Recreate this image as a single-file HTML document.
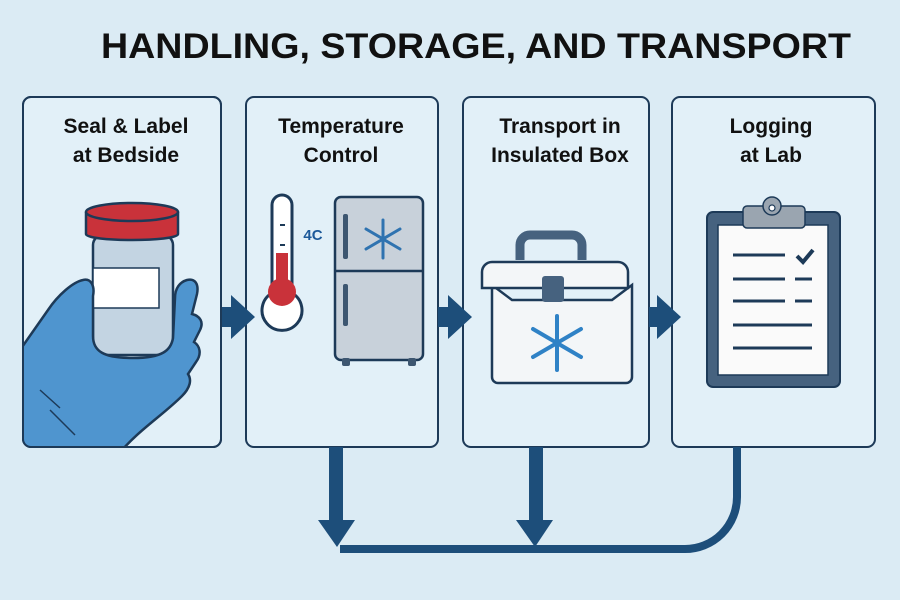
<!DOCTYPE html>
<html><head><meta charset="utf-8"><style>
html,body{margin:0;padding:0;background:#dbebf4;}
svg{display:block;}
text{font-family:"Liberation Sans",sans-serif;font-weight:bold;}
</style></head><body>
<svg width="900" height="600" viewBox="0 0 900 600" xmlns="http://www.w3.org/2000/svg">
<defs><clipPath id="b1"><rect x="23" y="97" width="198" height="350" rx="8"/></clipPath></defs>
<rect width="900" height="600" fill="#dbebf4"/>
<text x="476" y="58" font-size="35" text-anchor="middle" fill="#111" textLength="750" lengthAdjust="spacingAndGlyphs">HANDLING, STORAGE, AND TRANSPORT</text>
<g fill="#e2f0f8" stroke="#1d3a58" stroke-width="2">
<rect x="23" y="97" width="198" height="350" rx="8"/>
<rect x="246" y="97" width="192" height="350" rx="8"/>
<rect x="463" y="97" width="186" height="350" rx="8"/>
<rect x="672" y="97" width="203" height="350" rx="8"/>
</g>
<g font-size="21" fill="#111" text-anchor="middle">
<text x="126" y="133">Seal &amp; Label</text><text x="126" y="162">at Bedside</text>
<text x="341" y="133">Temperature</text><text x="341" y="162">Control</text>
<text x="560" y="133">Transport in</text><text x="560" y="162">Insulated Box</text>
<text x="771" y="133">Logging</text><text x="771" y="162">at Lab</text>
</g>
<!-- horizontal arrows -->
<g fill="#1d4e7a">
<path d="M221 307h10v-12l24 22-24 22v-12h-10z"/>
<path d="M438 307h10v-12l24 22-24 22v-12h-10z"/>
<path d="M649 307h8v-12l24 22-24 22v-12h-8z"/>
</g>
<!-- bottom connectors -->
<g fill="#1d4e7a">
<rect x="329" y="447" width="14" height="74"/>
<path d="M318 520h37l-18 27z"/>
<rect x="529" y="447" width="14" height="74"/>
<path d="M516 520h37l-18 27z"/>
</g>
<path d="M340 549H685a52 52 0 0 0 52-52V447" fill="none" stroke="#1d4e7a" stroke-width="8"/>
<!-- panel 1: jar + hand -->
<rect x="93" y="235" width="80" height="120" rx="10" fill="#c3d4e2" stroke="#1d3a58" stroke-width="2.5"/>
<rect x="93" y="268" width="66" height="40" fill="#fff" stroke="#1d3a58" stroke-width="1.5"/>
<path d="M86 212v22c0 8 92 8 92 0v-22" fill="#c9323a" stroke="#1d3a58" stroke-width="2.5"/>
<ellipse cx="132" cy="212" rx="46" ry="9" fill="#c9323a" stroke="#1d3a58" stroke-width="2.5"/>
<g clip-path="url(#b1)">
<path d="M20 460V350l28-40c10-15 25-28 35-30 8-2 12 6 10 16v40c0 15 10 22 40 22 30 0 38-8 40-20l2-40c0-10 5-16 12-18 8-2 12 4 10 14l-5 20c8 2 12 8 8 16l-6 12c6 4 8 12 2 20l-8 12c4 6 2 14-6 22-20 20-45 35-65 60l-15 20H20z" fill="#4f95cf" stroke="#1d3a58" stroke-width="2.5"/>
<path d="M40 390l20 18M50 410l25 25" stroke="#1d3a58" stroke-width="1.5"/>
</g>
<rect x="23" y="97" width="198" height="350" rx="8" fill="none" stroke="#1d3a58" stroke-width="2"/>
<!-- panel 2: thermometer + fridge -->
<path d="M272 205a10 10 0 0 1 20 0v88a20 20 0 1 1-20 0z" fill="#fff" stroke="#1d3a58" stroke-width="3"/>
<rect x="276" y="253" width="12" height="45" fill="#c9323a"/>
<circle cx="282" cy="292" r="14" fill="#c9323a"/>
<line x1="280" y1="225" x2="285" y2="225" stroke="#1d3a58" stroke-width="2"/>
<line x1="280" y1="245" x2="285" y2="245" stroke="#1d3a58" stroke-width="2"/>
<text x="313" y="240" font-size="15" fill="#1d5a9a" text-anchor="middle">4C</text>
<rect x="335" y="197" width="88" height="163" rx="6" fill="#c8d1da" stroke="#1d3a58" stroke-width="2.5"/>
<line x1="335" y1="271" x2="423" y2="271" stroke="#1d3a58" stroke-width="2.5"/>
<rect x="343" y="214" width="5" height="45" rx="2" fill="#3d5670"/>
<rect x="343" y="284" width="5" height="42" rx="2" fill="#3d5670"/>
<rect x="342" y="358" width="8" height="8" rx="2" fill="#3d5670"/>
<rect x="408" y="358" width="8" height="8" rx="2" fill="#3d5670"/>
<g stroke="#2f73b0" stroke-width="3" stroke-linecap="round">
<line x1="383" y1="220" x2="383" y2="258"/><line x1="366" y1="229" x2="400" y2="249"/><line x1="366" y1="249" x2="400" y2="229"/>
</g>
<!-- panel 3: cooler -->
<path d="M520 260v-15a10 10 0 0 1 10-10h42a10 10 0 0 1 10 10v15" fill="none" stroke="#46627f" stroke-width="9"/>
<path d="M492 285l20 15h100l20-15v92a6 6 0 0 1-6 6H498a6 6 0 0 1-6-6z" fill="#f3f6f8" stroke="#1d3a58" stroke-width="2.5"/>
<path d="M482 272a10 10 0 0 1 10-10h126a10 10 0 0 1 10 10v16h-146z" fill="#f3f6f8" stroke="#1d3a58" stroke-width="2.5"/>
<rect x="542" y="276" width="22" height="26" rx="3" fill="#46627f"/>
<g stroke="#2f82c6" stroke-width="4" stroke-linecap="round">
<line x1="557" y1="316" x2="557" y2="370"/><line x1="533" y1="329" x2="581" y2="357"/><line x1="533" y1="357" x2="581" y2="329"/>
</g>
<!-- panel 4: clipboard -->
<rect x="707" y="212" width="133" height="175" rx="6" fill="#46627f" stroke="#1d3a58" stroke-width="2"/>
<rect x="718" y="225" width="110" height="150" fill="#fafafa" stroke="#1d3a58" stroke-width="1.5"/>
<rect x="743" y="206" width="62" height="22" rx="4" fill="#9aa5b0" stroke="#1d3a58" stroke-width="1.5"/>
<circle cx="772" cy="206" r="9" fill="#9aa5b0" stroke="#1d3a58" stroke-width="1.5"/>
<circle cx="772" cy="208" r="3" fill="#fff" stroke="#1d3a58" stroke-width="1.2"/>
<g stroke="#1d3a58" stroke-width="3">
<line x1="733" y1="255" x2="785" y2="255"/><line x1="733" y1="279" x2="785" y2="279"/><line x1="795" y1="279" x2="812" y2="279"/>
<line x1="733" y1="301" x2="785" y2="301"/><line x1="795" y1="301" x2="812" y2="301"/>
<line x1="733" y1="325" x2="812" y2="325"/><line x1="733" y1="348" x2="812" y2="348"/>
</g>
<path d="M797 256l6 6 10-12" fill="none" stroke="#1d3a58" stroke-width="4"/>
</svg>
</body></html>
